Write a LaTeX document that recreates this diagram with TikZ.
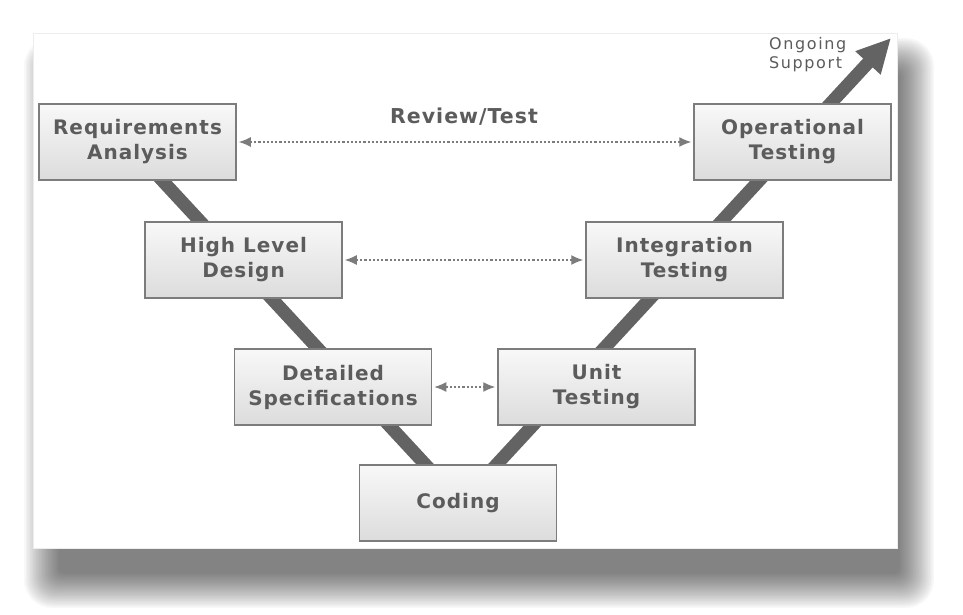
\documentclass[tikz,border=0pt]{standalone}
\usepackage{fontspec}
\setmainfont{DejaVu Sans}
\newfontfamily\boxfont[LetterSpace=5]{DejaVu Sans Bold}
\newfontfamily\thinfont[LetterSpace=10]{DejaVu Sans}
\usetikzlibrary{arrows.meta}
\definecolor{txtgray}{HTML}{5C5C5C}
\definecolor{linegray}{HTML}{636363}
\definecolor{bordergray}{HTML}{7C7C7C}
\definecolor{boxtop}{HTML}{F8F8F8}
\definecolor{boxbot}{HTML}{DCDCDC}
\begin{document}
\begin{tikzpicture}[x=1pt,y=-1pt,
  stage/.style={draw=bordergray, line width=1.5pt, top color=boxtop, bottom color=boxbot,
    minimum width=197pt, minimum height=76pt, inner sep=0pt, align=center,
    text=txtgray, font=\boxfont\fontsize{20}{25}\selectfont},
  vline/.style={draw=linegray, line width=13pt},
  review/.style={draw=bordergray, line width=1.4pt, dash pattern=on 2.2pt off 2pt,
    {Latex[length=12pt,width=10pt]}-{Latex[length=12pt,width=10pt]}, shorten <=2pt, shorten >=2pt},
  shadowstep/.style={fill=black, opacity=0.028}
]
\useasboundingbox (0,0) rectangle (963,615);
% soft shadow of the page
\foreach \i in {0,...,23}{
  \fill[shadowstep, rounded corners={28pt-\i*1pt}] ({24+\i*1.5},{38+\i*1.5}) rectangle ({934-\i*1.5},{608-\i*1.5});
}
% page panel
\fill[white, draw=black!7, line width=0.6pt] (33,33) rectangle (897,548);

% V line end points
\coordinate (vtop) at (126.6,142);
\coordinate (tip) at (891,38);
\coordinate (vbase) at (461,503);

% V lines (behind boxes)
\draw[vline] (vbase) -- (vtop);
\draw[vline, -{Triangle[length=34pt,width=32pt]}] (vbase) -- (tip);

\node[stage] (ra) at (137.5,142) {Requirements\\Analysis};
\node[stage] (hl) at (243.5,260) {High Level\\Design};
\node[stage] (ds) at (333,387) {Detailed\\Specifications};
\node[stage] (co) at (458,503) {Coding};
\node[stage] (ut) at (596.5,387) {Unit\\Testing};
\node[stage] (it) at (684.5,260) {Integration\\Testing};
\node[stage] (ot) at (792.5,142) {Operational\\Testing};

% review/test arrows
\draw[review] (ra.east) -- (ot.west);
\draw[review] (hl.east) -- (it.west);
\draw[review] (ds.east) -- (ut.west);

\node[text=txtgray, font=\boxfont\fontsize{20.5}{25}\selectfont] (rt) at (464,117) {Review/Test};
\node[text=txtgray, font=\thinfont\fontsize{16}{19}\selectfont, align=left, anchor=west, inner sep=0pt] (os) at (769,55) {Ongoing\\Support};
\end{tikzpicture}
\end{document}
